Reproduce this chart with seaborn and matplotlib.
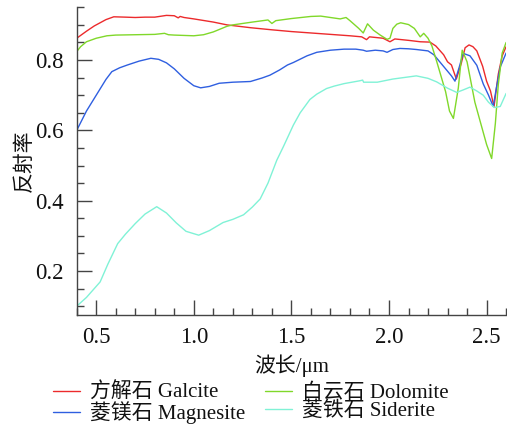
import numpy as np
import pandas as pd
import matplotlib
matplotlib.use("Agg")
import matplotlib.pyplot as plt
import seaborn as sns
from matplotlib.ticker import MultipleLocator

# ---------------- data ----------------
calcite_x = [0.40, 0.45, 0.49, 0.55, 0.59, 0.65, 0.70, 0.75, 0.80, 0.86, 0.90, 0.92, 0.93,
             0.95, 1.00, 1.10, 1.17, 1.29, 1.40, 1.50, 1.60, 1.70, 1.80, 1.86, 1.885, 1.90,
             1.97, 2.005, 2.03, 2.10, 2.16, 2.21, 2.24, 2.28, 2.30, 2.32, 2.345, 2.37, 2.39,
             2.41, 2.43, 2.45, 2.48, 2.50, 2.52, 2.538, 2.56, 2.58, 2.60]
calcite_y = [0.862, 0.882, 0.897, 0.915, 0.923, 0.922, 0.921, 0.922, 0.922, 0.927, 0.926, 0.920, 0.924,
             0.921, 0.917, 0.908, 0.900, 0.892, 0.886, 0.881, 0.877, 0.873, 0.869, 0.866, 0.858, 0.866,
             0.862, 0.852, 0.860, 0.856, 0.852, 0.851, 0.840, 0.815, 0.795, 0.786, 0.746, 0.790, 0.835,
             0.843, 0.838, 0.826, 0.782, 0.740, 0.712, 0.667, 0.760, 0.812, 0.838]

magnesite_x = [0.40, 0.45, 0.50, 0.55, 0.58, 0.62, 0.66, 0.72, 0.78, 0.82, 0.86, 0.90, 0.95, 1.00,
               1.035, 1.08, 1.13, 1.20, 1.29, 1.35, 1.39, 1.44, 1.48, 1.51, 1.58, 1.63, 1.70, 1.77,
               1.83, 1.868, 1.885, 1.93, 1.97, 1.99, 2.02, 2.056, 2.10, 2.14, 2.20, 2.23, 2.26,
               2.29, 2.32, 2.338, 2.36, 2.38, 2.415, 2.45, 2.483, 2.51, 2.534, 2.55, 2.57, 2.60]
magnesite_y = [0.600, 0.655, 0.700, 0.745, 0.767, 0.778, 0.786, 0.797, 0.805, 0.802, 0.792, 0.775, 0.748, 0.727,
               0.721, 0.725, 0.734, 0.737, 0.739, 0.749, 0.757, 0.772, 0.786, 0.793, 0.812, 0.822, 0.828, 0.831,
               0.831, 0.828, 0.825, 0.828, 0.826, 0.822, 0.830, 0.833, 0.832, 0.830, 0.826, 0.815, 0.795,
               0.775, 0.755, 0.740, 0.780, 0.819, 0.812, 0.785, 0.732, 0.700, 0.668, 0.720, 0.780, 0.820]

dolomite_x = [0.40, 0.42, 0.45, 0.50, 0.555, 0.60, 0.70, 0.80, 0.85, 0.87, 0.90, 1.00, 1.05, 1.10,
              1.17, 1.20, 1.30, 1.38, 1.40, 1.42, 1.50, 1.60, 1.65, 1.70, 1.75, 1.78, 1.80, 1.845,
              1.868, 1.89, 1.92, 1.955, 1.99, 2.005, 2.02, 2.04, 2.06, 2.10, 2.13, 2.16, 2.178,
              2.20, 2.22, 2.245, 2.29, 2.31, 2.33, 2.355, 2.375, 2.40, 2.44, 2.475, 2.50, 2.526,
              2.545, 2.56, 2.58, 2.60]
dolomite_y = [0.824, 0.838, 0.852, 0.862, 0.869, 0.871, 0.872, 0.873, 0.876, 0.872, 0.871, 0.869, 0.872, 0.880,
              0.896, 0.900, 0.908, 0.914, 0.904, 0.912, 0.918, 0.924, 0.925, 0.921, 0.917, 0.921, 0.912, 0.890,
              0.877, 0.903, 0.885, 0.871, 0.859, 0.862, 0.890, 0.902, 0.906, 0.901, 0.890, 0.866, 0.876,
              0.862, 0.840, 0.795, 0.710, 0.655, 0.634, 0.720, 0.828, 0.795, 0.680, 0.610, 0.560, 0.520,
              0.620, 0.730, 0.820, 0.850]

siderite_x = [0.40, 0.45, 0.52, 0.56, 0.61, 0.65, 0.70, 0.75, 0.81, 0.86, 0.91, 0.96, 1.025, 1.08,
              1.15, 1.20, 1.255, 1.30, 1.34, 1.38, 1.425, 1.46, 1.51, 1.545, 1.595, 1.63, 1.68,
              1.72, 1.77, 1.85, 1.865, 1.87, 1.94, 2.02, 2.10, 2.14, 2.20, 2.244, 2.30, 2.347,
              2.38, 2.415, 2.45, 2.483, 2.51, 2.54, 2.57, 2.60]
siderite_y = [0.100, 0.125, 0.169, 0.220, 0.278, 0.305, 0.335, 0.362, 0.383, 0.365, 0.337, 0.313, 0.302, 0.315,
              0.338, 0.347, 0.360, 0.382, 0.405, 0.450, 0.515, 0.555, 0.615, 0.650, 0.688, 0.703, 0.719,
              0.726, 0.733, 0.741, 0.743, 0.737, 0.737, 0.746, 0.752, 0.755, 0.748, 0.738, 0.720, 0.708,
              0.715, 0.723, 0.712, 0.700, 0.680, 0.665, 0.668, 0.705]

labels = ["方解石 Galcite", "菱镁石 Magnesite", "白云石 Dolomite", "菱铁石 Siderite"]
colors = ["#ec2a2c", "#2f5fe0", "#80d82a", "#80f2d6"]

xticks = [0.5, 1.0, 1.5, 2.0, 2.5]
yticks = [0.2, 0.4, 0.6, 0.8]
xlabel = "波长/μm"
ylabel = "反射率"

frames = []
for lab, xs, ys in zip(labels,
                       [calcite_x, magnesite_x, dolomite_x, siderite_x],
                       [calcite_y, magnesite_y, dolomite_y, siderite_y]):
    frames.append(pd.DataFrame({"wavelength": xs, "reflectance": ys, "mineral": lab}))
df = pd.concat(frames, ignore_index=True)

# ---------------- style ----------------
sns.set_theme(style="white")
fam = ["Liberation Serif", "Noto Sans CJK SC"]
plt.rcParams["font.family"] = fam
plt.rcParams["axes.unicode_minus"] = False

fig = plt.figure(figsize=(5.07, 4.24), dpi=100)
ax = fig.add_axes([76.7 / 507, 1 - 315 / 424, (506.1 - 76.7) / 507, (315 - 7.3) / 424])

sns.lineplot(data=df, x="wavelength", y="reflectance", hue="mineral",
             hue_order=labels, palette=colors, sort=False, estimator=None,
             linewidth=1.0, ax=ax, legend=False)

ax.set_xlim(0.4, 2.6)
ax.set_ylim(0.075, 0.95)
ax.set_xticks(xticks)
ax.set_yticks(yticks)
ax.set_xticklabels([f"{v:.1f}" for v in xticks])
ax.set_yticklabels([f"{v:.1f}" for v in yticks])
ax.xaxis.set_minor_locator(MultipleLocator(0.1))
ax.yaxis.set_minor_locator(MultipleLocator(0.05))

for s in ["top", "right"]:
    ax.spines[s].set_visible(False)
for s in ["left", "bottom"]:
    ax.spines[s].set_color("#444444")
    ax.spines[s].set_linewidth(1.0)

ax.tick_params(axis="both", which="major", direction="in", length=11, width=1.0,
               color="#444444", labelsize=16.5, labelcolor="#111111")
ax.tick_params(axis="both", which="minor", direction="in", length=5.3, width=1.0,
               color="#444444")
ax.tick_params(axis="y", which="both", left=True, pad=9.5)
ax.tick_params(axis="x", which="both", bottom=True, pad=8.5)

ax.set_xlabel(xlabel, fontsize=15, color="#111111", labelpad=5)
ax.set_ylabel(ylabel, fontsize=15, color="#111111", labelpad=0)

handles = [plt.Line2D([], [], color=c, linewidth=1.0) for c in colors]
leg = ax.legend(handles, labels, loc="upper left", bbox_to_anchor=(53 / 507, 1 - 383 / 424),
                bbox_transform=fig.transFigure, ncol=2, frameon=False, borderpad=0,
                borderaxespad=0, handlelength=1.3, handletextpad=0.5, columnspacing=0.9,
                labelspacing=-0.08, prop={"family": fam, "size": 15})
for t in leg.get_texts():
    t.set_color("#111111")

fig.savefig("out.png", dpi=100)
